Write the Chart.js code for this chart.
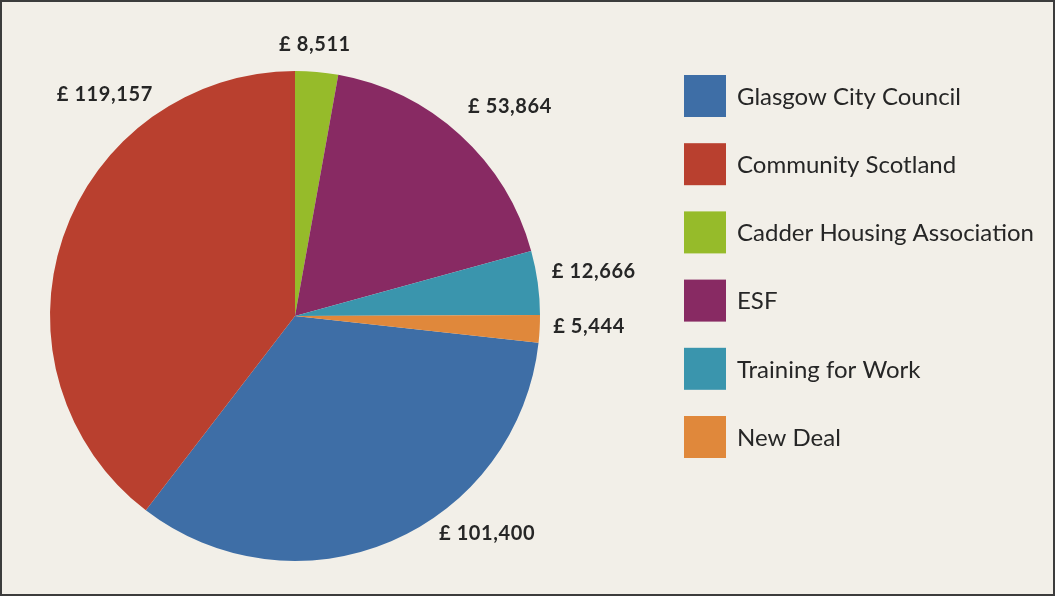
<!DOCTYPE html>
<html>
<head>
<meta charset="utf-8">
<title>Funding sources</title>
<script src="https://cdn.jsdelivr.net/npm/chart.js@4.4.1/dist/chart.umd.min.js"></script>
<style>
    html, body { margin: 0; padding: 0; background: #f2efe8; }
    #wrap { position: relative; width: 1055px; height: 596px; }
    #frame {
        position: absolute; left: 0; top: 0; width: 1055px; height: 596px;
        box-sizing: border-box; border: 2px solid #3c3c3c; pointer-events: none;
    }
</style>
</head>
<body>
<div id="wrap">
    <canvas id="fundChart" width="1055" height="596"></canvas>
    <div id="frame"></div>
</div>
<script>
/* ============================================================
   Funding by source - pie with outside value labels + legend
   ============================================================ */

// DATA
const sources = [
    "Glasgow City Council",
    "Community Scotland",
    "Cadder Housing Association",
    "ESF",
    "Training for Work",
    "New Deal"
];
const amounts = [101400, 119157, 8511, 53864, 12666, 5444];
const valueLabels = ["£ 101,400", "£ 119,157", "£ 8,511", "£ 53,864", "£ 12,666", "£ 5,444"];

// STYLE
const sliceColors = ["#3e6ea6", "#b9402f", "#96bb2a", "#882a63", "#3a95ad", "#e0883b"];
const FONT = "Lato, 'Open Sans', sans-serif";
const TEXT = "#262626";

// label anchor per slice: [angle from 12 o'clock in degrees, distance / radius]
const labelAnchors = [[138.5, 1.183], [319.4, 1.193], [4.2, 1.110], [45.8, 1.224], [81.6, 1.233], [92.1, 1.201]];

// pie starts with the Cadder slice at the top
const total = amounts.reduce((a, b) => a + b, 0);
const startRotation = 360 - (amounts[0] + amounts[1]) / total * 360;

/* ===================== PLUGIN: labels + legend ======================== */

const decorations = {
    id: "decorations",
    afterDraw(chart) {
        const ctx = chart.ctx;
        const arc = chart.getDatasetMeta(0).data[0];
        const cx = arc.x, cy = arc.y, r = arc.outerRadius;

        ctx.save();
        // value labels
        ctx.fillStyle = TEXT;
        ctx.font = "bold 20px " + FONT;
        ctx.letterSpacing = "0.6px";
        ctx.textAlign = "center";
        ctx.textBaseline = "middle";
        valueLabels.forEach((txt, i) => {
            const a = labelAnchors[i][0] * Math.PI / 180;
            const d = labelAnchors[i][1] * r;
            ctx.fillText(txt, cx + d * Math.sin(a), cy - d * Math.cos(a));
        });

        // legend
        ctx.letterSpacing = "0px";
        ctx.textAlign = "left";
        ctx.font = "24px " + FONT;
        sources.forEach((name, i) => {
            const top = 75 + i * 68.2;
            ctx.fillStyle = sliceColors[i];
            ctx.fillRect(684, top, 42, 42);
            ctx.fillStyle = TEXT;
            ctx.fillText(name, 737, top + 22);
        });
        ctx.restore();
    }
};

document.addEventListener("DOMContentLoaded", () => {
    const ctx = document.getElementById("fundChart");

    new Chart(ctx, {
        type: "pie",
        data: {
            labels: sources,
            datasets: [{
                data: amounts,
                backgroundColor: sliceColors,
                borderWidth: 0
            }]
        },
        options: {
            responsive: false,
            animation: false,
            rotation: startRotation,
            layout: {
                padding: { left: 50, right: 515, top: 71, bottom: 35 }
            },
            plugins: {
                legend: { display: false },
                tooltip: { enabled: false }
            }
        },
        plugins: [decorations]
    });
});
</script>
</body>
</html>
